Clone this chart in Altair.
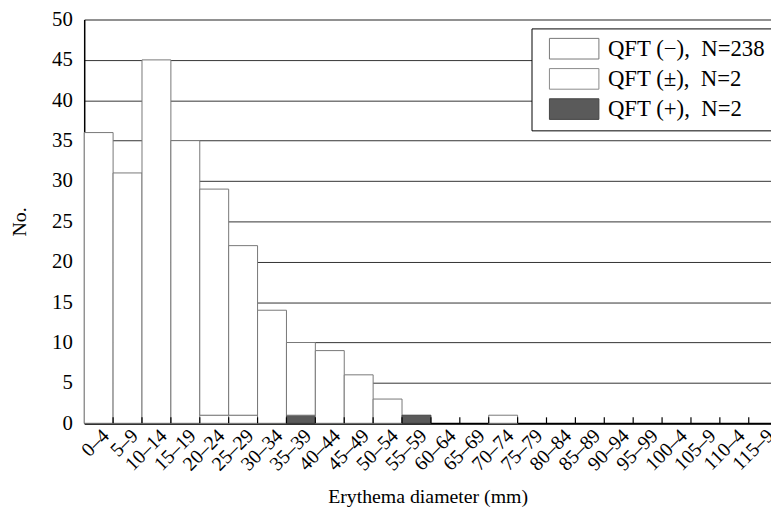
import json
import altair as alt
import pandas as pd

bins = ["0–4", "5–9", "10–14", "15–19", "20–24", "25–29", "30–34", "35–39",
        "40–44", "45–49", "50–54", "55–59", "60–64", "65–69", "70–74", "75–79",
        "80–84", "85–89", "90–94", "95–99", "100–4", "105–9", "110–4", "115–9"]
qft_neg = [36, 31, 45, 35, 28, 21, 14, 9, 9, 6, 3, 0, 0, 0, 1, 0, 0, 0, 0, 0, 0, 0, 0, 0]
qft_pm = [0, 0, 0, 0, 1, 1, 0, 0, 0, 0, 0, 0, 0, 0, 0, 0, 0, 0, 0, 0, 0, 0, 0, 0]
qft_pos = [0, 0, 0, 0, 0, 0, 0, 1, 0, 0, 0, 1, 0, 0, 0, 0, 0, 0, 0, 0, 0, 0, 0, 0]
series_names = ["QFT (−),\u2002N=238", "QFT (±),\u2002N=2", "QFT (+),\u2002N=2"]
y_ticks = [0, 5, 10, 15, 20, 25, 30, 35, 40, 45, 50]

# stack from the bottom: (±), (+), (−)
rows = []
for i in range(len(bins)):
    base = 0
    for name, vals in ((series_names[1], qft_pm), (series_names[2], qft_pos), (series_names[0], qft_neg)):
        c = vals[i]
        if c > 0:
            rows.append({"x0": i, "x1": i + 1, "y0": base, "y1": base + c, "series": name, "bin": bins[i]})
            base += c
df = pd.DataFrame(rows)
ticks_df = pd.DataFrame({"x0": list(range(1, len(bins)))})

label_expr = json.dumps(bins, ensure_ascii=False) + "[floor(datum.value)]"
FONT = "Liberation Serif"

xscale = alt.Scale(domain=[0, 23.77], nice=False, zero=False)
xaxis = alt.Axis(values=[i + 0.5 for i in range(len(bins))], labelExpr=label_expr,
                 ticks=False, grid=False, labelAngle=315, labelAlign="right",
                 labelBaseline="middle", labelFontSize=20, labelOffset=7,
                 labelFont=FONT, labelPadding=9, labelColor="black",
                 labelOverlap=False, labelFlush=False, labelBound=False,
                 title="Erythema diameter (mm)", titleFont=FONT, titleFontSize=20,
                 titleFontWeight="normal", titleColor="black", titlePadding=13,
                 domainColor="black", domainWidth=2)

bars = alt.Chart(df).mark_rect(strokeWidth=1).encode(
    x=alt.X("x0:Q", scale=xscale, axis=xaxis),
    x2="x1:Q",
    y=alt.Y("y0:Q", scale=alt.Scale(domain=[0, 50], nice=False),
            axis=alt.Axis(values=y_ticks, ticks=False, grid=True, gridColor="#333333",
                          gridWidth=1, labelFont=FONT, labelFontSize=21, labelColor="black",
                          labelPadding=12, title="No.", titleFont=FONT, titleFontSize=20,
                          titleFontWeight="normal", titleColor="black", titlePadding=22,
                          domainColor="black", domainWidth=1.5)),
    y2="y1:Q",
    fill=alt.Fill("series:N", scale=alt.Scale(domain=series_names, range=["white", "white", "#5a5a5a"]),
                  legend=alt.Legend(title=None, orient="none", legendX=452, legendY=9,
                                    strokeColor="black", fillColor="white",
                                    padding=9, symbolType="M-2.4,-1L2.4,-1L2.4,1L-2.4,1Z",
                                    symbolSize=434, symbolOffset=22.6, labelOffset=22.6,
                                    labelFont=FONT, labelFontSize=23, labelColor="black",
                                    labelLimit=0, rowPadding=5.5, symbolStrokeWidth=1)),
    stroke=alt.Stroke("series:N", scale=alt.Scale(domain=series_names, range=["#777777", "#8a8a8a", "#444444"])),
    strokeDash=alt.StrokeDash("series:N", scale=alt.Scale(domain=series_names, range=[[1, 0], [3, 2], [1, 0]])),
)

tick_marks = alt.Chart(ticks_df).mark_rule(color="black", strokeWidth=1.2).encode(
    x=alt.X("x0:Q", scale=xscale, axis=xaxis),
    y=alt.value(408),
    y2=alt.value(402),
)

chart = alt.layer(bars, tick_marks).properties(
    width=694, height=408,
    autosize=alt.AutoSizeParams(type="none"),
    padding={"left": 77, "top": 9, "right": 0, "bottom": 86},
).configure_view(stroke=None).configure(font=FONT)

chart.save("out.html", embed_options={"renderer": "svg", "actions": False})
